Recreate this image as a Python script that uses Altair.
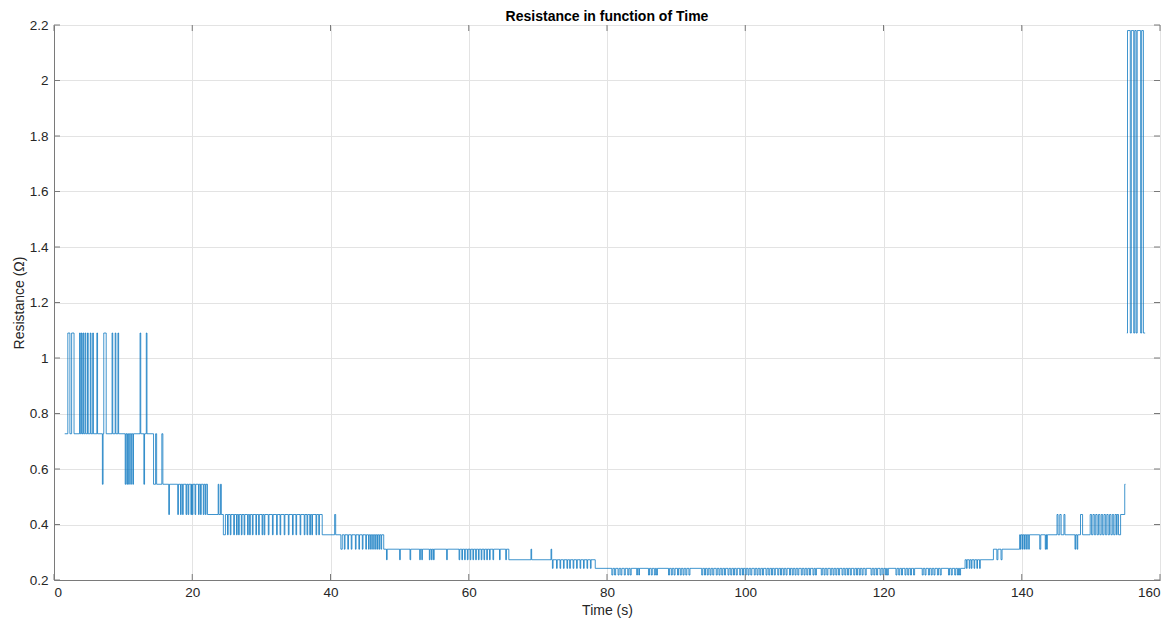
import altair as alt
import pandas as pd

# Quantised resistance levels (ohm), indexed by level code 1..10
LEVELS = [2.18, 1.09, 0.727, 0.545, 0.436, 0.363, 0.311, 0.273, 0.242, 0.218]

# Regions: (start time, base level code, default excursion code, excursions [start, end(, code)])
seg1_regions = [
    (1.55, 3, 2, [[2.0, 2.3], [2.55, 2.9], [3.7, 3.8], [3.95, 4.05], [4.2, 4.3], [4.5, 4.6],
                  [4.85, 4.95], [5.25, 5.35], [5.6, 5.7], [6.2, 6.3], [7.0, 7.1, 4], [7.2, 7.55],
                  [8.4, 8.5], [8.85, 8.95], [9.25, 9.35], [10.3, 10.4, 4], [10.55, 10.65, 4],
                  [10.8, 10.9, 4], [11.1, 11.2, 4], [11.4, 11.5, 4], [12.45, 12.55], [13.0, 13.1, 4],
                  [13.35, 13.45]]),
    (14.4, 4, 5, [[14.7, 14.85, 3], [15.6, 15.75, 3], [16.6, 16.7], [17.9, 18.0], [18.3, 18.4],
                  [18.6, 18.7], [19.1, 19.2], [19.4, 19.5], [19.8, 19.9], [20.0, 20.1],
                  [20.4, 20.5], [20.9, 21.0], [21.2, 21.3], [21.6, 21.7], [21.9, 22.0]]),
    (22.2, 5, 4, [[23.75, 23.85], [24.1, 24.2]]),
    (24.45, 5, 6, [[24.5, 24.8], [25.1, 25.2], [25.5, 25.6], [26.0, 26.1], [26.4, 26.5], [26.7, 26.8],
                   [27.1, 27.2], [27.5, 27.6], [28.0, 28.1], [28.3, 28.4], [28.7, 28.8],
                   [29.2, 29.3], [29.6, 29.7], [30.1, 30.2], [30.4, 30.5], [31.0, 31.1],
                   [31.6, 31.7], [32.2, 32.3], [32.7, 32.8], [33.3, 33.4], [33.9, 34.0],
                   [34.5, 34.6], [35.0, 35.1], [35.6, 35.7], [36.2, 36.3], [36.6, 36.7],
                   [37.0, 37.1], [37.3, 37.4], [37.9, 38.0], [38.3, 38.4]]),
    (38.8, 6, 7, [[40.6, 40.75, 5], [41.5, 41.7], [42.0, 42.1], [42.5, 42.6], [43.0, 43.1],
                  [43.6, 43.7], [44.1, 44.2], [44.6, 44.7], [45.1, 45.2], [45.5, 45.6],
                  [45.8, 45.9], [46.1, 46.2], [46.4, 46.5], [46.7, 46.8], [47.0, 47.1], [47.3, 47.4]]),
    (47.7, 7, 8, [[48.1, 48.2], [50.0, 50.1], [51.5, 51.6], [52.9, 53.0], [53.2, 53.3], [54.3, 54.4],
                  [54.6, 54.7], [54.9, 55.0], [56.8, 56.9], [58.6, 58.7], [59.0, 59.1],
                  [59.4, 59.5], [59.8, 59.9], [60.2, 60.3], [60.6, 60.7], [61.0, 61.1],
                  [61.4, 61.5], [61.8, 61.9], [62.2, 62.3], [62.6, 62.7], [63.0, 63.1], [63.5, 63.6],
                  [64.45, 64.55], [65.35, 65.45]]),
    (65.8, 8, 9, [[69.0, 69.1, 7], [71.9, 72.0, 7], [72.1, 72.2], [72.7, 72.8], [73.2, 73.3],
                  [73.7, 73.8], [74.2, 74.3], [74.6, 74.7], [75.1, 75.2], [75.6, 75.7],
                  [76.1, 76.2], [76.6, 76.7], [77.1, 77.2], [77.6, 77.7]]),
    (78.3, 9, 10, [[80.7, 80.85], [81.1, 81.25], [81.6, 81.75], [82.0, 82.15], [82.5, 82.65],
                   [83.0, 83.15], [83.35, 83.5], [84.3, 84.4], [84.6, 84.7], [86.0, 86.15],
                   [86.4, 86.55], [86.85, 87.0], [87.15, 87.3], [88.9, 89.05], [89.3, 89.45],
                   [89.7, 89.85], [90.2, 90.35], [90.6, 90.75], [91.0, 91.15], [91.4, 91.55],
                   [91.85, 92.0], [93.7, 93.85], [94.1, 94.25], [94.5, 94.65], [94.9, 95.05],
                   [95.3, 95.45], [95.8, 95.95], [96.2, 96.35], [96.6, 96.75], [97.0, 97.15],
                   [97.5, 97.65], [97.9, 98.05], [98.3, 98.45], [98.7, 98.85], [99.2, 99.35],
                   [99.6, 99.75], [100.0, 100.15], [100.4, 100.55], [100.8, 100.95], [101.3, 101.45],
                   [101.7, 101.85], [102.1, 102.25], [102.5, 102.65], [103.0, 103.15], [103.4, 103.55],
                   [103.8, 103.95], [104.2, 104.35], [104.7, 104.85], [105.1, 105.25], [105.5, 105.65],
                   [105.9, 106.05], [106.4, 106.55], [106.8, 106.95], [107.2, 107.35], [107.6, 107.75],
                   [108.1, 108.25], [108.5, 108.65], [108.9, 109.05], [109.3, 109.45], [109.8, 109.95],
                   [110.15, 110.3], [111.0, 111.15], [111.4, 111.55], [111.8, 111.95], [112.3, 112.45],
                   [112.7, 112.85], [113.1, 113.25], [113.5, 113.65], [114.0, 114.15], [114.4, 114.55],
                   [114.8, 114.95], [115.2, 115.35], [115.7, 115.85], [116.1, 116.25], [116.5, 116.65],
                   [116.9, 117.05], [117.35, 117.5], [118.2, 118.35], [118.6, 118.75], [119.0, 119.15],
                   [119.5, 119.65], [119.9, 120.05], [120.3, 120.45], [120.55, 120.7], [121.8, 121.95],
                   [122.2, 122.35], [122.6, 122.75], [123.1, 123.25], [123.5, 123.65], [123.9, 124.05],
                   [124.35, 124.5], [125.6, 125.75], [126.0, 126.15], [126.5, 126.65], [126.9, 127.05],
                   [127.3, 127.45], [127.8, 127.95], [128.2, 128.35], [129.4, 129.55], [129.8, 129.95],
                   [130.3, 130.45], [130.7, 130.85], [131.0, 131.15]]),
    (131.8, 8, 9, [[132.0, 132.1], [132.4, 132.5], [132.7, 132.8], [133.1, 133.2], [133.5, 133.6],
                   [133.9, 134.0]]),
    (135.9, 7, 8, [[136.4, 136.55], [137.0, 137.15]]),
    (139.7, 6, 7, [[139.8, 139.9], [140.1, 140.2], [140.4, 140.5], [140.7, 140.8], [141.0, 141.1],
                   [142.6, 142.75], [143.4, 143.5], [143.6, 143.7], [145.1, 145.25, 5], [145.5, 145.7, 5],
                   [146.1, 146.25, 5], [147.7, 147.8], [148.0, 148.1], [148.5, 148.8, 5],
                   [149.9, 150.1, 5], [150.3, 150.5, 5], [150.7, 150.9, 5], [151.1, 151.3, 5],
                   [151.5, 151.7, 5], [151.9, 152.1, 5], [152.3, 152.5, 5], [152.7, 152.9, 5],
                   [153.1, 153.3, 5], [153.5, 153.7, 5], [153.8, 154.0, 5]]),
    (154.3, 5, 4, []),
    (154.9, 4, 4, []),
]
seg1_end = 155.0

seg2_regions = [
    (155.2, 2, 1, [[155.3, 155.7], [155.85, 156.2], [156.35, 156.55], [156.7, 157.2], [157.35, 157.6]]),
]
seg2_end = 157.85

x_ticks = [0, 20, 40, 60, 80, 100, 120, 140, 160]
y_ticks = [0.2, 0.4, 0.6, 0.8, 1.0, 1.2, 1.4, 1.6, 1.8, 2.0, 2.2]
title_text = ["Resistance in function of Time"]


def build(regions, end_t, seg):
    rows = []
    for start, base, dip, events in regions:
        rows.append((start, base))
        for ev in events:
            code = ev[2] if len(ev) > 2 else dip
            rows.append((ev[0], code))
            rows.append((ev[1], base))
    rows.append((end_t, rows[-1][1]))
    return [{"t": t, "r": LEVELS[c - 1], "seg": seg} for t, c in rows]


df = pd.DataFrame(build(seg1_regions, seg1_end, 0) + build(seg2_regions, seg2_end, 1))

W, H = 1106, 555
FONT = "Liberation Sans"
TXT = "#262626"
FRAME = "#7a7a7a"

xs = alt.Scale(domain=[0, 160], nice=False, zero=False)
ys = alt.Scale(domain=[0.2, 2.2], nice=False, zero=False)

line = alt.Chart(df).mark_line(interpolate="step-after", color="#0072BD", strokeWidth=0.75).encode(
    x=alt.X("t:Q", scale=xs, title="Time (s)",
            axis=alt.Axis(values=x_ticks, grid=True, gridColor="#e3e3e3", domain=True,
                          domainColor=FRAME, ticks=False, labelPadding=5, labelFontSize=13.5,
                          labelColor=TXT, titleFontSize=14, titleColor=TXT, titleFontWeight="normal",
                          titlePadding=5, labelFont=FONT, titleFont=FONT, format="~g")),
    y=alt.Y("r:Q", scale=ys, title="Resistance (Ω)",
            axis=alt.Axis(values=y_ticks, grid=True, gridColor="#e3e3e3", domain=True,
                          domainColor=FRAME, ticks=False, labelPadding=6, labelFontSize=13.5,
                          labelColor=TXT, titleFontSize=14, titleColor=TXT, titleFontWeight="normal",
                          titlePadding=3, labelFont=FONT, titleFont=FONT, format=".1~f")),
    detail="seg:N",
    order="t:Q",
)

xt = pd.DataFrame({"x": x_ticks})
yt = pd.DataFrame({"y": y_ticks})

xb = alt.Chart(xt).mark_rule(color=FRAME, strokeWidth=1).encode(
    x=alt.X("x:Q", scale=xs), y=alt.value(H), y2=alt.value(H - 6))
xtop = alt.Chart(xt).mark_rule(color=FRAME, strokeWidth=1).encode(
    x=alt.X("x:Q", scale=xs), y=alt.value(0), y2=alt.value(6))
yl = alt.Chart(yt).mark_rule(color=FRAME, strokeWidth=1).encode(
    y=alt.Y("y:Q", scale=ys), x=alt.value(0), x2=alt.value(6))
yr = alt.Chart(yt).mark_rule(color=FRAME, strokeWidth=1).encode(
    y=alt.Y("y:Q", scale=ys), x=alt.value(W), x2=alt.value(W - 6))

title = alt.Chart(pd.DataFrame({"label": title_text})).mark_text(
    font=FONT, fontSize=14, fontWeight="bold", color="#000000", align="center", baseline="alphabetic"
).encode(text="label:N", x=alt.value(W / 2), y=alt.value(-4))

chart = alt.layer(line, xb, xtop, yl, yr, title).properties(
    width=W, height=H,
    autosize=alt.AutoSizeParams(type="none"),
    padding={"left": 46, "top": 17, "right": 6, "bottom": 38},
).configure_view(stroke=FRAME, strokeWidth=1).configure(background="white")

chart.save("out.html", embed_options={"renderer": "svg", "actions": False})
